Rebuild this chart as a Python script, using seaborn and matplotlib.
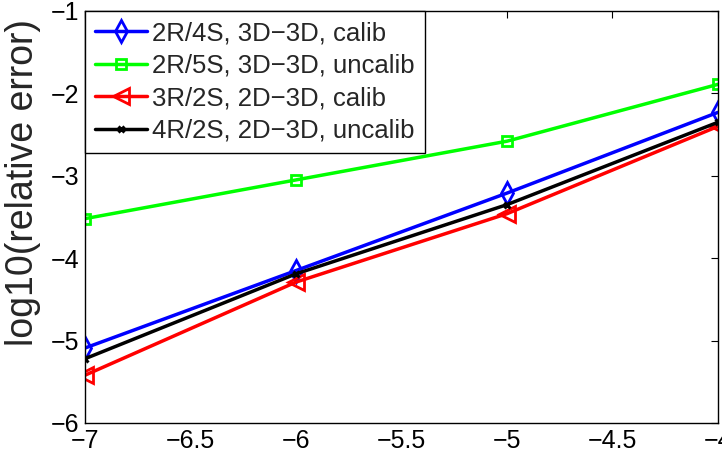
import matplotlib
matplotlib.use("Agg")
import matplotlib.pyplot as plt
import seaborn as sns
import pandas as pd

x_vals = [-7, -6, -5, -4]
blue_vals = [-5.09, -4.15, -3.21, -2.23]
green_vals = [-3.52, -3.05, -2.58, -1.89]
red_vals = [-5.42, -4.29, -3.46, -2.40]
black_vals = [-5.22, -4.19, -3.35, -2.35]
labels = ["2R/4S, 3D\u22123D, calib", "2R/5S, 3D\u22123D, uncalib",
          "3R/2S, 2D\u22123D, calib", "4R/2S, 2D\u22123D, uncalib"]
xticks = [-7, -6.5, -6, -5.5, -5, -4.5, -4]
yticks = [-6, -5, -4, -3, -2, -1]

sns.set_style("white")
plt.rcParams['font.family'] = ['Liberation Sans', 'DejaVu Sans']

fig = plt.figure(figsize=(7.22, 4.59), dpi=100)
ax = fig.add_axes([85/722, 1 - 423/459, (718-85)/722, (423-11)/459])

series = [blue_vals, green_vals, red_vals, black_vals]
colors = ["#0000ff", "#00ff00", "#ff0000", "#000000"]
markers = ["d", "s", "<", "x"]
msizes = [11, 7, 11, 5]
mews = [2, 2, 2, 2.2]
for vals, lab, c, m, ms, mw in zip(series, labels, colors, markers, msizes, mews):
    df = pd.DataFrame({"x": x_vals, "y": vals})
    sns.lineplot(data=df, x="x", y="y", ax=ax, color=c, lw=2.5, label=lab,
                 marker=m, markersize=ms, markeredgewidth=mw,
                 markerfacecolor="none", markeredgecolor=c)

ax.set_xlim(-7, -4)
ax.set_ylim(-6, -1)
ax.set_xticks(xticks)
ax.set_yticks(yticks)
ax.set_xticklabels([f"{t:g}".replace("-", "\u2212") for t in xticks])
ax.set_yticklabels([f"{t:g}".replace("-", "\u2212") for t in yticks])
ax.tick_params(direction="in", length=5, width=0.8, top=True, right=True,
               labelsize=18, pad=4, colors="black")
ax.set_xlabel("")
ax.set_ylabel("log10(relative error)", fontsize=27)
ax.yaxis.set_label_coords(-0.07, 0.583)
for s in ax.spines.values():
    s.set_visible(True)
    s.set_color("black")
    s.set_linewidth(1.0)

leg = ax.legend(loc="upper left", fontsize=18.5, frameon=True, fancybox=False,
                borderaxespad=0, handlelength=2.0, handletextpad=0.2,
                borderpad=0.4, labelspacing=0.33)
leg.get_frame().set_edgecolor("black")
leg.get_frame().set_linewidth(1.0)
leg.get_frame().set_alpha(1)

fig.savefig("out.png", dpi=100)
